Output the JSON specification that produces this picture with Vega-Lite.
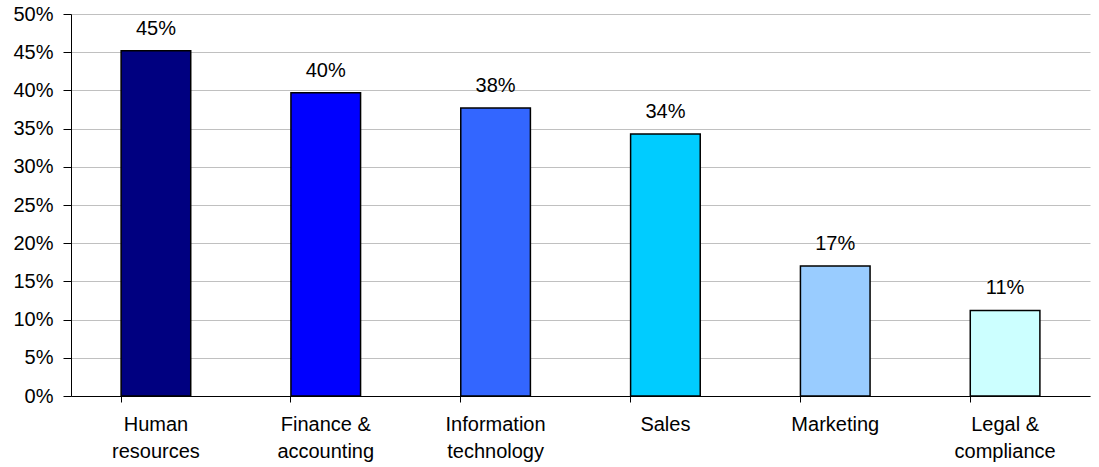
{
  "$schema": "https://vega.github.io/schema/vega-lite/v6.json",
  "autosize": {"type": "none"},
  "width": 1019,
  "height": 382,
  "padding": {"left": 71, "top": 14, "right": 9, "bottom": 71},
  "background": "white",
  "config": {"view": {"stroke": null}, "font": "Liberation Sans"},
  "data": {
    "values": [
      {"category": "Human resources", "value": 0.452, "label": "45%"},
      {"category": "Finance & accounting", "value": 0.397, "label": "40%"},
      {"category": "Information technology", "value": 0.377, "label": "38%"},
      {"category": "Sales", "value": 0.343, "label": "34%"},
      {"category": "Marketing", "value": 0.170, "label": "17%"},
      {"category": "Legal & compliance", "value": 0.112, "label": "11%"}
    ]
  },
  "encoding": {
    "x": {
      "field": "category",
      "type": "nominal",
      "sort": null,
      "scale": {"paddingInner": 0.59, "paddingOuter": 0.295},
      "axis": {
        "title": null,
        "labelAngle": 0,
        "labelFontSize": 20,
        "labelColor": "black",
        "labelPadding": 12,
        "labelLineHeight": 27,
        "labelExpr": "datum.label == 'Human resources' ? ['Human','resources'] : datum.label == 'Finance & accounting' ? ['Finance &','accounting'] : datum.label == 'Information technology' ? ['Information','technology'] : datum.label == 'Legal & compliance' ? ['Legal &','compliance'] : datum.label",
        "domainColor": "black",
        "domainWidth": 1,
        "tickColor": "black",
        "tickSize": 6,
        "bandPosition": 0,
        "labelBound": false
      }
    },
    "y": {
      "field": "value",
      "type": "quantitative",
      "scale": {"domain": [0, 0.5]},
      "axis": {
        "title": null,
        "format": ".0%",
        "values": [0, 0.05, 0.1, 0.15, 0.2, 0.25, 0.3, 0.35, 0.4, 0.45, 0.5],
        "labelFontSize": 20,
        "labelColor": "black",
        "labelPadding": 10,
        "domainColor": "black",
        "tickColor": "black",
        "tickSize": 8,
        "gridColor": "#c0c0c0",
        "gridWidth": 1
      }
    }
  },
  "layer": [
    {
      "mark": {"type": "bar", "stroke": "black", "strokeWidth": 1.5},
      "encoding": {
        "color": {
          "field": "category",
          "type": "nominal",
          "sort": null,
          "scale": {"range": ["#000080", "#0000ff", "#3366ff", "#00ccff", "#99ccff", "#ccffff"]},
          "legend": null
        }
      }
    },
    {
      "mark": {"type": "text", "dy": -16, "baseline": "alphabetic", "fontSize": 20, "color": "black"},
      "encoding": {"text": {"field": "label"}}
    }
  ]
}
